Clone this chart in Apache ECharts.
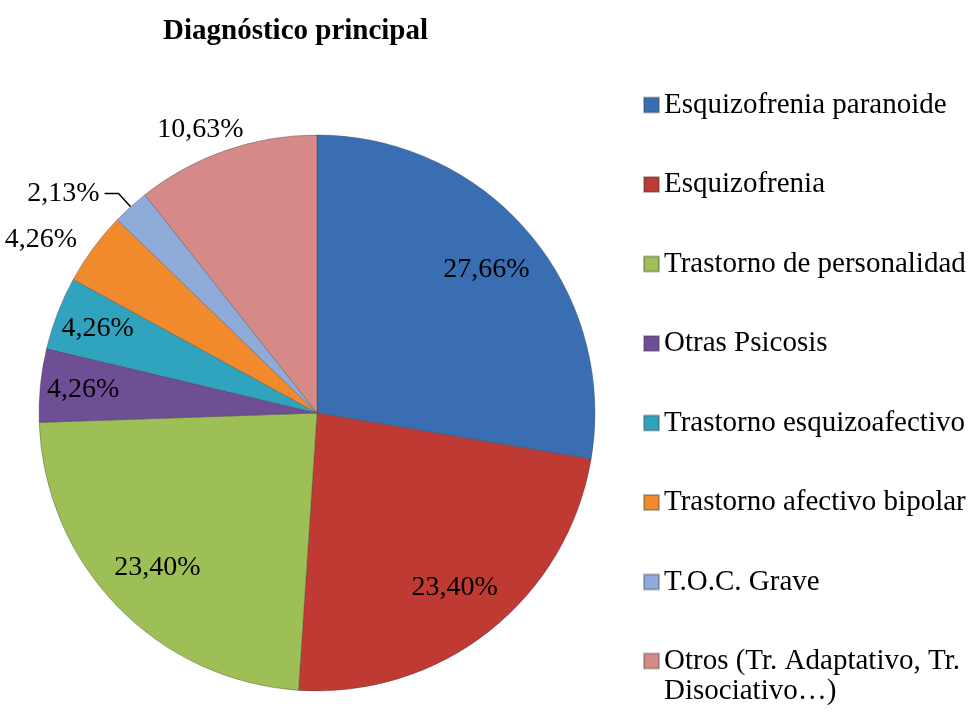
<!DOCTYPE html>
<html>
<head>
<meta charset="utf-8">
<script src="https://cdn.jsdelivr.net/npm/echarts@6/dist/echarts.min.js"></script>
<style>
  html, body { margin: 0; padding: 0; background: #fff; }
  #main { width: 976px; height: 713px; }
</style>
</head>
<body>
<div id="main"></div>
<script>
// data
const categories = [
    'Esquizofrenia paranoide',
    'Esquizofrenia',
    'Trastorno de personalidad',
    'Otras Psicosis',
    'Trastorno esquizoafectivo',
    'Trastorno afectivo bipolar',
    'T.O.C. Grave',
    'Otros (Tr. Adaptativo, Tr. Disociativo…)'
];
const percents = [27.66, 23.40, 23.40, 4.26, 4.26, 4.26, 2.13, 10.63];
const colors = ['#3A6EB2', '#BE3A33', '#9DBF55', '#6E4E94', '#30A3BE', '#F08A2C', '#8EABDA', '#D58A88'];

const FONT = '"Liberation Serif", "Times New Roman", serif';
const fmt = (v) => v.toFixed(2).replace('.', ',') + '%';

// which label goes where
const innerBig = [0, 1, 2];
const innerSmall = [3, 4];
const outer = [5, 6, 7];

const center = [317, 413];
const R = 278;

let chart = echarts.init(document.getElementById('main'));

function baseData(showIdx, extra) {
    return categories.map((name, i) => {
        let item = {
            name: name,
            value: percents[i],
            label: { show: showIdx.indexOf(i) >= 0 }
        };
        if (extra) extra(item, i);
        return item;
    });
}

let mainData = baseData(outer, (item, i) => {
    item.itemStyle = { color: colors[i] };
    if (i === 6) {
        item.labelLine = { show: true, length: 18, length2: 14 };
    } else if (i === 7) {
        item.labelLine = { show: false, length: 22, length2: 0 };
    } else {
        item.labelLine = { show: false, length: 14, length2: 0 };
    }
});

let labelStyle = {
    color: '#000',
    fontFamily: FONT,
    fontSize: 28,
    formatter: (p) => fmt(p.value)
};

let legendText = { fontFamily: FONT, fontSize: 29, color: '#000', lineHeight: 30 };

let option = {
    animation: false,
    title: {
        text: 'Diagnóstico principal',
        left: 158,
        top: 12,
        textStyle: { fontFamily: FONT, fontSize: 29, fontWeight: 'bold', color: '#000' }
    },
    legend: [
        {
            orient: 'vertical',
            left: 638,
            top: 85,
            itemWidth: 15,
            itemHeight: 15,
            itemGap: 49.5,
            icon: 'rect',
            data: categories.slice(0, 7),
            textStyle: legendText
        },
        {
            // last entry wraps onto two lines, marker stays on the first one
            // (empty leading line keeps the text block centred on line 1)
            orient: 'vertical',
            left: 638,
            top: 611,
            itemWidth: 15,
            itemHeight: 15,
            icon: 'rect',
            data: categories.slice(7),
            formatter: (name) => ' \n' + name.replace('Tr. Disociativo', 'Tr.\nDisociativo'),
            textStyle: legendText
        }
    ],
    series: [
        {
            type: 'pie',
            center: center,
            radius: [0, R],
            startAngle: 90,
            clockwise: true,
            avoidLabelOverlap: false,
            itemStyle: { borderColor: 'rgba(60,60,60,0.35)', borderWidth: 1 },
            label: Object.assign({ position: 'outside' }, labelStyle),
            labelLine: { lineStyle: { color: '#000', width: 1.5 } },
            // the top label sits centred over its slice in the original
            labelLayout: (p) => p.dataIndex === 7 ? { dx: 30, dy: 0 } : {},
            data: mainData
        },
        {
            // transparent ring only to place the big labels at ~0.79 R
            type: 'pie',
            center: center,
            radius: [160, R],
            startAngle: 90,
            silent: true,
            avoidLabelOverlap: false,
            itemStyle: { color: 'rgba(0,0,0,0)' },
            label: Object.assign({ position: 'inside' }, labelStyle),
            labelLine: { show: false },
            data: baseData(innerBig)
        },
        {
            type: 'pie',
            center: center,
            radius: [186, R],
            startAngle: 90,
            silent: true,
            avoidLabelOverlap: false,
            itemStyle: { color: 'rgba(0,0,0,0)' },
            label: Object.assign({ position: 'inside' }, labelStyle),
            labelLine: { show: false },
            data: baseData(innerSmall)
        }
    ]
};
chart.setOption(option);
</script>
</body>
</html>
